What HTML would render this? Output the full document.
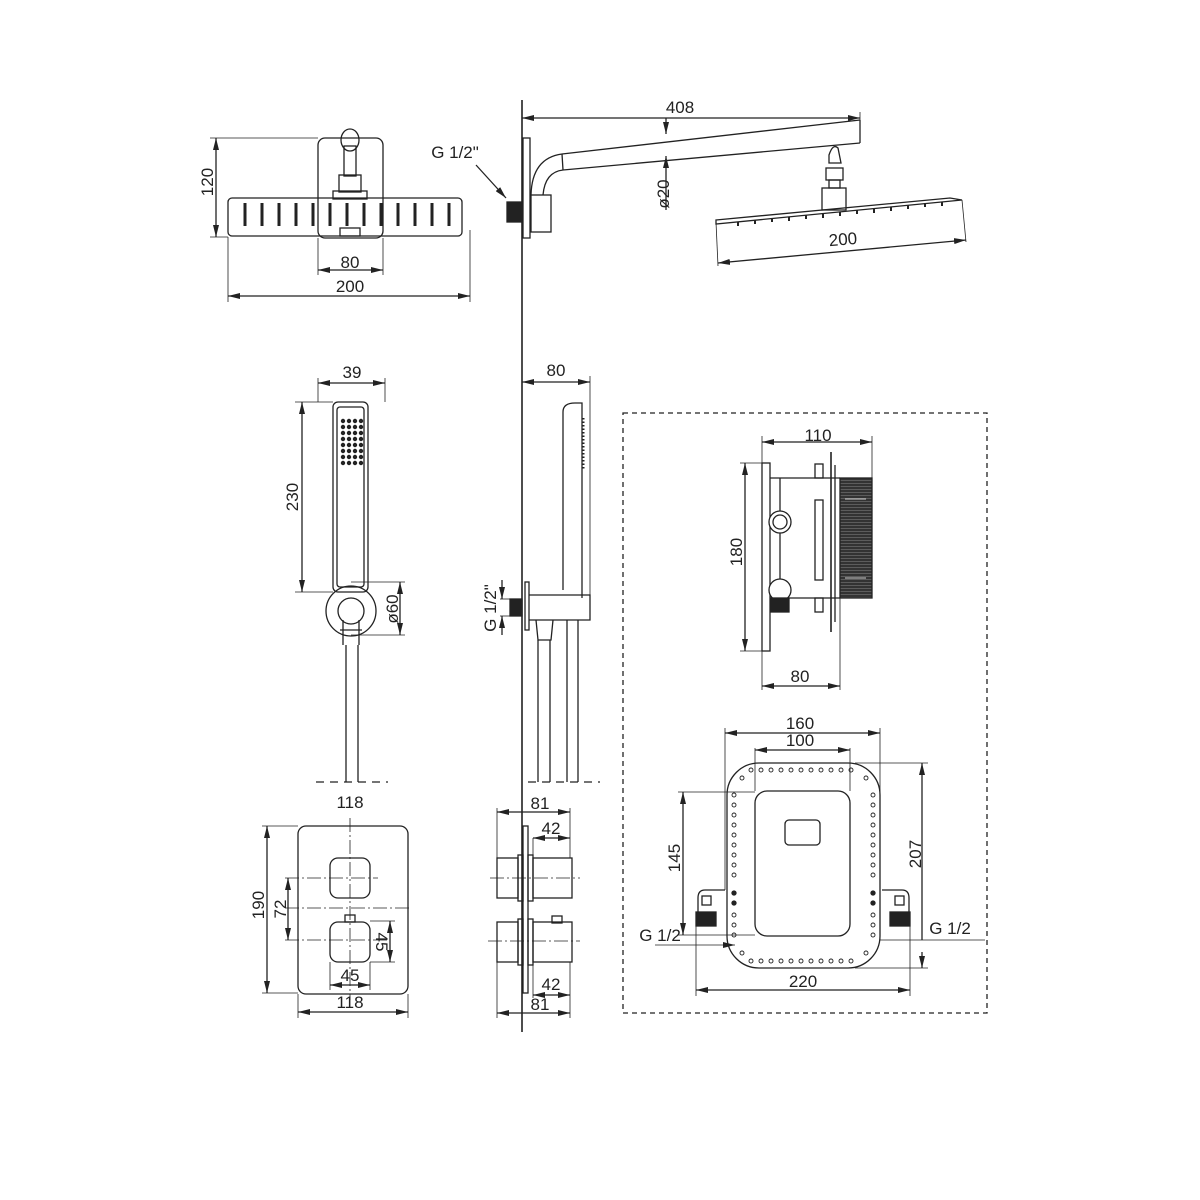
<!DOCTYPE html>
<html><head><meta charset="utf-8"><style>
html,body{margin:0;padding:0;background:#fff}
svg{display:block}
text{font-family:"Liberation Sans Narrow","Liberation Sans",sans-serif;font-size:17px;fill:#222;font-stretch:condensed}
</style></head><body>
<svg width="1200" height="1200" viewBox="0 0 1200 1200" xmlns="http://www.w3.org/2000/svg">
<defs>
<marker id="a" viewBox="0 0 12 6" refX="12" refY="3" markerWidth="12" markerHeight="6" markerUnits="userSpaceOnUse" orient="auto-start-reverse"><path d="M0,0L12,3L0,6z" fill="#222"/></marker>
<pattern id="rib" width="4" height="3" patternUnits="userSpaceOnUse"><rect width="4" height="3" fill="#333"/><line x1="0" y1="0.5" x2="4" y2="0.5" stroke="#777" stroke-width="0.6"/></pattern>
</defs>
<g stroke="#222" stroke-width="1.3" fill="none">
<line x1="522" y1="100" x2="522" y2="1032" stroke-width="1.6"/>

<rect x="318" y="138" width="65" height="100" rx="7"/>
<ellipse cx="350" cy="140" rx="9" ry="11"/>
<rect x="344" y="146" width="12" height="30"/>
<rect x="339" y="175" width="22" height="17"/>
<rect x="333" y="191" width="34" height="8"/>
<rect x="228" y="198" width="234" height="38" rx="4"/>
<rect x="340" y="228" width="20" height="8"/>
<g stroke-width="3">
<line x1="245" y1="203" x2="245" y2="226"/><line x1="262" y1="203" x2="262" y2="226"/><line x1="279" y1="203" x2="279" y2="226"/><line x1="296" y1="203" x2="296" y2="226"/><line x1="313" y1="203" x2="313" y2="226"/><line x1="330" y1="203" x2="330" y2="226"/><line x1="347" y1="203" x2="347" y2="226"/><line x1="364" y1="203" x2="364" y2="226"/><line x1="381" y1="203" x2="381" y2="226"/><line x1="398" y1="203" x2="398" y2="226"/><line x1="415" y1="203" x2="415" y2="226"/><line x1="432" y1="203" x2="432" y2="226"/><line x1="449" y1="203" x2="449" y2="226"/>
</g>
<line x1="210" y1="138" x2="318" y2="138" stroke-width="0.8"/>
<line x1="210" y1="237" x2="228" y2="237" stroke-width="0.8"/>
<line x1="216" y1="138" x2="216" y2="237" marker-start="url(#a)" marker-end="url(#a)"/>
<line x1="318" y1="238" x2="318" y2="275" stroke-width="0.8"/>
<line x1="383" y1="238" x2="383" y2="275" stroke-width="0.8"/>
<line x1="318" y1="270" x2="383" y2="270" marker-start="url(#a)" marker-end="url(#a)"/>
<line x1="228" y1="237" x2="228" y2="302" stroke-width="0.8"/>
<line x1="470" y1="230" x2="470" y2="302" stroke-width="0.8"/>
<line x1="228" y1="296" x2="470" y2="296" marker-start="url(#a)" marker-end="url(#a)"/>

<line x1="476" y1="165" x2="506" y2="198" marker-end="url(#a)"/>
<rect x="507" y="202" width="15" height="20" fill="#222"/>
<rect x="523" y="138" width="7" height="100"/>
<path d="M531,195 Q532,158 562,154"/>
<path d="M543,195 Q545,172 563,170"/>
<line x1="562" y1="154" x2="860" y2="120"/>
<line x1="563" y1="170" x2="860" y2="143"/>
<line x1="860" y1="120" x2="860" y2="143"/>
<line x1="562" y1="154" x2="563" y2="170"/>
<rect x="531" y="195" width="20" height="37"/>
<line x1="522" y1="118" x2="860" y2="118" marker-start="url(#a)" marker-end="url(#a)"/>
<line x1="860" y1="112" x2="860" y2="120" stroke-width="0.8"/>
<line x1="666" y1="118" x2="666" y2="134" marker-end="url(#a)"/>
<line x1="666" y1="210" x2="666" y2="156" marker-end="url(#a)"/>
<path d="M829,155 Q833,143 838,148 L841,163 L829,163z"/>
<rect x="826" y="168" width="17" height="12"/>
<rect x="829" y="180" width="11" height="8"/>
<rect x="822" y="188" width="24" height="22"/>
<path d="M716,220 L950,198 L962,200 L716,224 z"/>
<g stroke-width="2">
<line x1="738" y1="222" x2="738" y2="226"/><line x1="755" y1="220" x2="755" y2="224"/><line x1="772" y1="218" x2="772" y2="222"/><line x1="789" y1="217" x2="789" y2="221"/><line x1="806" y1="215" x2="806" y2="219"/><line x1="823" y1="214" x2="823" y2="218"/><line x1="840" y1="212" x2="840" y2="216"/><line x1="857" y1="210" x2="857" y2="214"/><line x1="874" y1="209" x2="874" y2="213"/><line x1="891" y1="207" x2="891" y2="211"/><line x1="908" y1="205" x2="908" y2="209"/><line x1="925" y1="203" x2="925" y2="207"/><line x1="942" y1="202" x2="942" y2="206"/>
</g>
<line x1="716" y1="222" x2="718" y2="266" stroke-width="0.8"/>
<line x1="962" y1="200" x2="966" y2="242" stroke-width="0.8"/>
<line x1="718" y1="263" x2="966" y2="240" marker-start="url(#a)" marker-end="url(#a)"/>

<rect x="333" y="402" width="35" height="190" rx="5"/>
<rect x="337" y="407" width="27" height="180" rx="3"/>
<g fill="#222" stroke="none">
<circle cx="343" cy="421" r="2.2"/><circle cx="349" cy="421" r="2.2"/><circle cx="355" cy="421" r="2.2"/><circle cx="361" cy="421" r="2.2"/>
<circle cx="343" cy="427" r="2.2"/><circle cx="349" cy="427" r="2.2"/><circle cx="355" cy="427" r="2.2"/><circle cx="361" cy="427" r="2.2"/>
<circle cx="343" cy="433" r="2.2"/><circle cx="349" cy="433" r="2.2"/><circle cx="355" cy="433" r="2.2"/><circle cx="361" cy="433" r="2.2"/>
<circle cx="343" cy="439" r="2.2"/><circle cx="349" cy="439" r="2.2"/><circle cx="355" cy="439" r="2.2"/><circle cx="361" cy="439" r="2.2"/>
<circle cx="343" cy="445" r="2.2"/><circle cx="349" cy="445" r="2.2"/><circle cx="355" cy="445" r="2.2"/><circle cx="361" cy="445" r="2.2"/>
<circle cx="343" cy="451" r="2.2"/><circle cx="349" cy="451" r="2.2"/><circle cx="355" cy="451" r="2.2"/><circle cx="361" cy="451" r="2.2"/>
<circle cx="343" cy="457" r="2.2"/><circle cx="349" cy="457" r="2.2"/><circle cx="355" cy="457" r="2.2"/><circle cx="361" cy="457" r="2.2"/>
<circle cx="343" cy="463" r="2.2"/><circle cx="349" cy="463" r="2.2"/><circle cx="355" cy="463" r="2.2"/><circle cx="361" cy="463" r="2.2"/>
</g>
<circle cx="351" cy="611" r="25"/>
<circle cx="351" cy="611" r="13"/>
<path d="M343,620 L343,645 M359,620 L359,645 M340,630 L362,630"/>
<line x1="346" y1="645" x2="346" y2="782"/>
<line x1="358" y1="645" x2="358" y2="782"/>
<line x1="318" y1="378" x2="318" y2="402" stroke-width="0.8"/>
<line x1="385" y1="378" x2="385" y2="402" stroke-width="0.8"/>
<line x1="318" y1="383" x2="385" y2="383" marker-start="url(#a)" marker-end="url(#a)"/>
<line x1="295" y1="402" x2="333" y2="402" stroke-width="0.8"/>
<line x1="295" y1="592" x2="333" y2="592" stroke-width="0.8"/>
<line x1="302" y1="402" x2="302" y2="592" marker-start="url(#a)" marker-end="url(#a)"/>
<line x1="351" y1="582" x2="405" y2="582" stroke-width="0.8"/>
<line x1="351" y1="635" x2="405" y2="635" stroke-width="0.8"/>
<line x1="400" y1="582" x2="400" y2="635" marker-start="url(#a)" marker-end="url(#a)"/>
<line x1="316" y1="782" x2="388" y2="782" stroke-dasharray="8,6"/>

<line x1="522" y1="382" x2="590" y2="382" marker-start="url(#a)" marker-end="url(#a)"/>
<line x1="590" y1="376" x2="590" y2="600" stroke-width="0.8"/>
<path d="M563,590 L563,412 Q563,403 575,403 L582,403 L582,598"/>
<line x1="583" y1="418" x2="583" y2="470" stroke-dasharray="1.5,2" stroke-width="3"/>
<rect x="525" y="582" width="4" height="48"/>
<rect x="510" y="599" width="12" height="17" fill="#222"/>
<path d="M529,595 L590,595 L590,620 L529,620"/>
<path d="M536,620 L538,640 L551,640 L553,620"/>
<line x1="538" y1="640" x2="538" y2="782"/>
<line x1="550" y1="640" x2="550" y2="782"/>
<line x1="567" y1="620" x2="567" y2="782"/>
<line x1="578" y1="620" x2="578" y2="782"/>
<line x1="500" y1="599" x2="510" y2="599" stroke-width="0.8"/>
<line x1="500" y1="616" x2="510" y2="616" stroke-width="0.8"/>
<line x1="502" y1="580" x2="502" y2="599" marker-end="url(#a)"/>
<line x1="502" y1="635" x2="502" y2="616" marker-end="url(#a)"/>
<line x1="528" y1="782" x2="600" y2="782" stroke-dasharray="8,6"/>

<rect x="298" y="826" width="110" height="168" rx="8"/>
<rect x="330" y="858" width="40" height="40" rx="8"/>
<rect x="330" y="922" width="40" height="40" rx="8"/>
<rect x="345" y="915" width="10" height="7"/>
<g stroke-width="0.8" stroke-dasharray="14,3,2,3">
<line x1="350" y1="818" x2="350" y2="1000"/>
<line x1="285" y1="878" x2="378" y2="878"/>
<line x1="285" y1="908" x2="412" y2="908"/>
<line x1="285" y1="940" x2="390" y2="940"/>
</g>
<line x1="262" y1="826" x2="298" y2="826" stroke-width="0.8"/>
<line x1="262" y1="993" x2="298" y2="993" stroke-width="0.8"/>
<line x1="267" y1="826" x2="267" y2="993" marker-start="url(#a)" marker-end="url(#a)"/>
<line x1="288" y1="878" x2="288" y2="940" marker-start="url(#a)" marker-end="url(#a)"/>
<line x1="370" y1="921" x2="395" y2="921" stroke-width="0.8"/>
<line x1="370" y1="962" x2="395" y2="962" stroke-width="0.8"/>
<line x1="390" y1="921" x2="390" y2="962" marker-start="url(#a)" marker-end="url(#a)"/>
<line x1="330" y1="962" x2="330" y2="990" stroke-width="0.8"/>
<line x1="370" y1="962" x2="370" y2="990" stroke-width="0.8"/>
<line x1="330" y1="985" x2="370" y2="985" marker-start="url(#a)" marker-end="url(#a)"/>
<line x1="298" y1="994" x2="298" y2="1018" stroke-width="0.8"/>
<line x1="408" y1="994" x2="408" y2="1018" stroke-width="0.8"/>
<line x1="298" y1="1012" x2="408" y2="1012" marker-start="url(#a)" marker-end="url(#a)"/>

<rect x="523" y="826" width="5" height="167"/>
<rect x="497" y="858" width="21" height="40"/>
<rect x="518" y="855" width="5" height="46"/>
<rect x="533" y="858" width="39" height="40"/>
<rect x="528" y="855" width="5" height="46"/>
<rect x="497" y="922" width="21" height="40"/>
<rect x="518" y="919" width="5" height="46"/>
<rect x="533" y="922" width="39" height="40"/>
<rect x="528" y="919" width="5" height="46"/>
<rect x="552" y="916" width="10" height="7"/>
<g stroke-width="0.8" stroke-dasharray="14,3,2,3">
<line x1="490" y1="878" x2="580" y2="878"/>
<line x1="488" y1="941" x2="580" y2="941"/>
</g>
<line x1="497" y1="808" x2="497" y2="858" stroke-width="0.8"/>
<line x1="570" y1="808" x2="570" y2="858" stroke-width="0.8"/>
<line x1="497" y1="812" x2="570" y2="812" marker-start="url(#a)" marker-end="url(#a)"/>
<line x1="533" y1="838" x2="533" y2="858" stroke-width="0.8"/>
<line x1="533" y1="838" x2="570" y2="838" marker-start="url(#a)" marker-end="url(#a)"/>
<line x1="533" y1="962" x2="533" y2="998" stroke-width="0.8"/>
<line x1="533" y1="995" x2="570" y2="995" marker-start="url(#a)" marker-end="url(#a)"/>
<line x1="497" y1="962" x2="497" y2="1018" stroke-width="0.8"/>
<line x1="570" y1="962" x2="570" y2="1018" stroke-width="0.8"/>
<line x1="497" y1="1013" x2="570" y2="1013" marker-start="url(#a)" marker-end="url(#a)"/>

<rect x="623" y="413" width="364" height="600" stroke-dasharray="5,4"/>

<line x1="762" y1="436" x2="762" y2="465" stroke-width="0.8"/>
<line x1="872" y1="436" x2="872" y2="478" stroke-width="0.8"/>
<line x1="762" y1="442" x2="872" y2="442" marker-start="url(#a)" marker-end="url(#a)"/>
<rect x="762" y="463" width="8" height="188"/>
<line x1="770" y1="478" x2="840" y2="478"/>
<line x1="770" y1="598" x2="840" y2="598"/>
<line x1="780" y1="478" x2="780" y2="598"/>
<rect x="815" y="464" width="8" height="14"/>
<rect x="815" y="598" width="8" height="14"/>
<rect x="815" y="500" width="8" height="80"/>
<line x1="831" y1="452" x2="831" y2="632" stroke-width="1.6"/>
<line x1="835" y1="465" x2="835" y2="622"/>
<rect x="840" y="478" width="32" height="120" fill="url(#rib)"/>
<g stroke="#fff" stroke-width="0.8"><line x1="845" y1="499" x2="866" y2="499"/><line x1="845" y1="578" x2="866" y2="578"/></g>
<circle cx="780" cy="522" r="11" fill="#fff"/>
<circle cx="780" cy="522" r="7"/>
<circle cx="780" cy="590" r="11" fill="#fff"/>
<rect x="771" y="598" width="18" height="14" fill="#222"/>
<line x1="740" y1="463" x2="762" y2="463" stroke-width="0.8"/>
<line x1="740" y1="651" x2="770" y2="651" stroke-width="0.8"/>
<line x1="745" y1="463" x2="745" y2="651" marker-start="url(#a)" marker-end="url(#a)"/>
<line x1="762" y1="651" x2="762" y2="690" stroke-width="0.8"/>
<line x1="840" y1="598" x2="840" y2="690" stroke-width="0.8"/>
<line x1="762" y1="686" x2="840" y2="686" marker-start="url(#a)" marker-end="url(#a)"/>

<rect x="727" y="763" width="153" height="205" rx="32"/>
<rect x="755" y="791" width="95" height="145" rx="12"/>
<rect x="785" y="820" width="35" height="25" rx="4"/>
<g stroke-width="0.9" fill="#fff">
<circle cx="751" cy="770" r="2"/><circle cx="761" cy="770" r="2"/><circle cx="771" cy="770" r="2"/><circle cx="781" cy="770" r="2"/><circle cx="791" cy="770" r="2"/><circle cx="801" cy="770" r="2"/><circle cx="811" cy="770" r="2"/><circle cx="821" cy="770" r="2"/><circle cx="831" cy="770" r="2"/><circle cx="841" cy="770" r="2"/><circle cx="851" cy="770" r="2"/>
<circle cx="751" cy="961" r="2"/><circle cx="761" cy="961" r="2"/><circle cx="771" cy="961" r="2"/><circle cx="781" cy="961" r="2"/><circle cx="791" cy="961" r="2"/><circle cx="801" cy="961" r="2"/><circle cx="811" cy="961" r="2"/><circle cx="821" cy="961" r="2"/><circle cx="831" cy="961" r="2"/><circle cx="841" cy="961" r="2"/><circle cx="851" cy="961" r="2"/>
<circle cx="734" cy="795" r="2"/><circle cx="734" cy="805" r="2"/><circle cx="734" cy="815" r="2"/><circle cx="734" cy="825" r="2"/><circle cx="734" cy="835" r="2"/><circle cx="734" cy="845" r="2"/><circle cx="734" cy="855" r="2"/><circle cx="734" cy="865" r="2"/><circle cx="734" cy="875" r="2"/><circle cx="734" cy="915" r="2"/><circle cx="734" cy="925" r="2"/><circle cx="734" cy="935" r="2"/>
<circle cx="873" cy="795" r="2"/><circle cx="873" cy="805" r="2"/><circle cx="873" cy="815" r="2"/><circle cx="873" cy="825" r="2"/><circle cx="873" cy="835" r="2"/><circle cx="873" cy="845" r="2"/><circle cx="873" cy="855" r="2"/><circle cx="873" cy="865" r="2"/><circle cx="873" cy="875" r="2"/><circle cx="873" cy="915" r="2"/><circle cx="873" cy="925" r="2"/><circle cx="873" cy="935" r="2"/>
<circle cx="742" cy="778" r="2"/><circle cx="866" cy="778" r="2"/><circle cx="742" cy="953" r="2"/><circle cx="866" cy="953" r="2"/>
</g>
<circle cx="734" cy="893" r="2" fill="#222"/><circle cx="734" cy="903" r="2" fill="#222"/>
<circle cx="873" cy="893" r="2" fill="#222"/><circle cx="873" cy="903" r="2" fill="#222"/>
<path d="M725,890 L705,890 Q698,890 698,898 L698,912"/>
<rect x="702" y="896" width="9" height="9"/>
<rect x="696" y="912" width="20" height="14" fill="#222"/>
<path d="M882,890 L902,890 Q909,890 909,898 L909,912"/>
<rect x="895" y="896" width="9" height="9"/>
<rect x="890" y="912" width="20" height="14" fill="#222"/>
<line x1="725" y1="728" x2="725" y2="890" stroke-width="0.8"/>
<line x1="880" y1="728" x2="880" y2="890" stroke-width="0.8"/>
<line x1="725" y1="733" x2="880" y2="733" marker-start="url(#a)" marker-end="url(#a)"/>
<line x1="755" y1="748" x2="755" y2="791" stroke-width="0.8"/>
<line x1="850" y1="748" x2="850" y2="791" stroke-width="0.8"/>
<line x1="755" y1="750" x2="850" y2="750" marker-start="url(#a)" marker-end="url(#a)"/>
<line x1="678" y1="792" x2="755" y2="792" stroke-width="0.8"/>
<line x1="678" y1="935" x2="755" y2="935" stroke-width="0.8"/>
<line x1="683" y1="792" x2="683" y2="935" marker-start="url(#a)" marker-end="url(#a)"/>
<line x1="855" y1="763" x2="928" y2="763" stroke-width="0.8"/>
<line x1="855" y1="968" x2="928" y2="968" stroke-width="0.8"/>
<line x1="922" y1="763" x2="922" y2="940" marker-start="url(#a)"/>
<line x1="922" y1="952" x2="922" y2="968" marker-end="url(#a)"/>
<line x1="880" y1="940" x2="985" y2="940" stroke-width="0.8"/>
<line x1="655" y1="945" x2="735" y2="945" stroke-width="0.8" marker-end="url(#a)"/>
<line x1="696" y1="926" x2="696" y2="996" stroke-width="0.8"/>
<line x1="910" y1="926" x2="910" y2="996" stroke-width="0.8"/>
<line x1="696" y1="990" x2="910" y2="990" marker-start="url(#a)" marker-end="url(#a)"/>
</g>

<text x="207" y="188" text-anchor="middle" transform="rotate(-90 207 182)">120</text>
<text x="350" y="268" text-anchor="middle">80</text>
<text x="350" y="292" text-anchor="middle">200</text>
<text x="455" y="158" text-anchor="middle">G 1/2"</text>
<text x="680" y="113" text-anchor="middle">408</text>
<text x="663" y="200" text-anchor="middle" transform="rotate(-90 663 194)">ø20</text>
<text x="843" y="245" text-anchor="middle" transform="rotate(-5 843 240)">200</text>
<text x="352" y="378" text-anchor="middle">39</text>
<text x="292" y="503" text-anchor="middle" transform="rotate(-90 292 497)">230</text>
<text x="392" y="615" text-anchor="middle" transform="rotate(-90 392 609)">ø60</text>
<text x="556" y="376" text-anchor="middle">80</text>
<text x="490" y="614" text-anchor="middle" transform="rotate(-90 490 608)">G 1/2"</text>
<text x="350" y="808" text-anchor="middle">118</text>
<text x="258" y="911" text-anchor="middle" transform="rotate(-90 258 905)">190</text>
<text x="280" y="915" text-anchor="middle" transform="rotate(-90 280 909)">72</text>
<text x="382" y="948" text-anchor="middle" transform="rotate(90 382 942)">45</text>
<text x="350" y="981" text-anchor="middle">45</text>
<text x="350" y="1008" text-anchor="middle">118</text>
<text x="540" y="809" text-anchor="middle">81</text>
<text x="551" y="834" text-anchor="middle">42</text>
<text x="551" y="990" text-anchor="middle">42</text>
<text x="540" y="1010" text-anchor="middle">81</text>
<text x="818" y="441" text-anchor="middle">110</text>
<text x="736" y="558" text-anchor="middle" transform="rotate(-90 736 552)">180</text>
<text x="800" y="682" text-anchor="middle">80</text>
<text x="800" y="729" text-anchor="middle">160</text>
<text x="800" y="746" text-anchor="middle">100</text>
<text x="674" y="864" text-anchor="middle" transform="rotate(-90 674 858)">145</text>
<text x="915" y="860" text-anchor="middle" transform="rotate(-90 915 854)">207</text>
<text x="660" y="941" text-anchor="middle">G 1/2</text>
<text x="950" y="934" text-anchor="middle">G 1/2</text>
<text x="803" y="987" text-anchor="middle">220</text>
</svg>
</body></html>
